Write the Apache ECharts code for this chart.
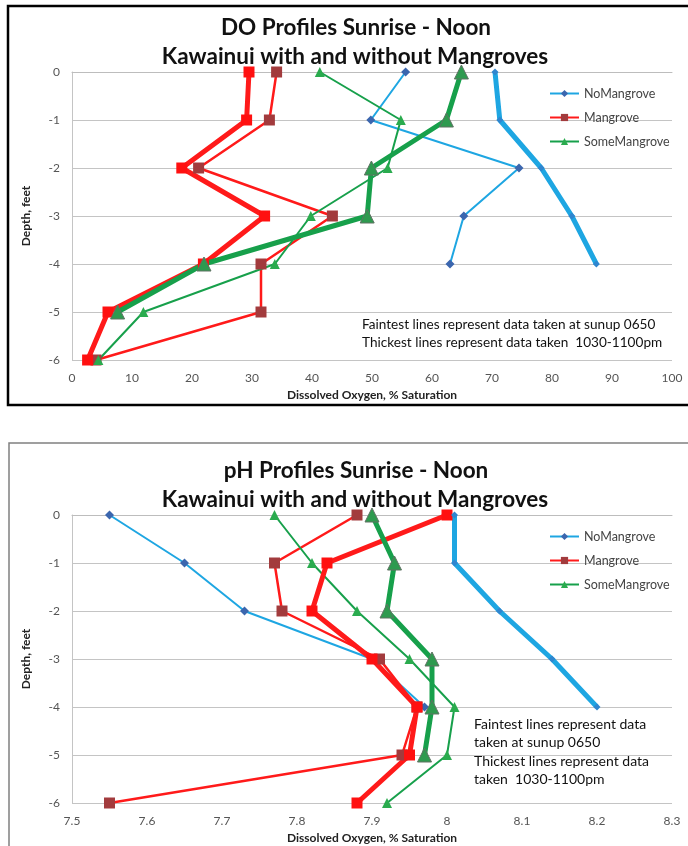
<!DOCTYPE html>
<html>
<head>
<meta charset="utf-8">
<title>DO and pH Profiles</title>
<script src="https://cdn.jsdelivr.net/npm/echarts@6/dist/echarts.min.js"></script>
<style>
    html, body {margin: 0; padding: 0; background: #fff;}
    #chart {width: 688px; height: 846px;}
</style>
</head>
<body>
<div id="chart"></div>
<script>
    // depth of each reading, feet
    var depths = [0, -1, -2, -3, -4, -5, -6];
    var legendNames = ['NoMangrove', 'Mangrove', 'SomeMangrove'];

    // dissolved oxygen, % saturation (sunup = faint, noon = thick)
    var doNoMangroveSunup = [55.6, 49.8, 74.5, 65.3, 63.0];
    var doNoMangroveNoon = [70.5, 71.3, 78.2, 83.3, 87.4];
    var doMangroveSunup = [34.1, 32.9, 21.1, 43.4, 31.5, 31.5, 4.0];
    var doMangroveNoon = [29.5, 29.1, 18.3, 32.1, 21.9, 6.0, 2.6];
    var doSomeMangroveSunup = [41.3, 54.8, 52.6, 39.8, 33.8, 11.9, 4.4];
    var doSomeMangroveNoon = [64.9, 62.4, 49.9, 49.2, 22.0, 7.6];

    // pH
    var phNoMangroveSunup = [7.55, 7.65, 7.73, 7.90, 7.97];
    var phNoMangroveNoon = [8.01, 8.01, 8.07, 8.14, 8.20];
    var phMangroveSunup = [7.88, 7.77, 7.78, 7.91, 7.96, 7.94, 7.55];
    var phMangroveNoon = [8.00, 7.84, 7.82, 7.90, 7.96, 7.95, 7.88];
    var phSomeMangroveSunup = [7.77, 7.82, 7.88, 7.95, 8.01, 8.00, 7.92];
    var phSomeMangroveNoon = [7.90, 7.93, 7.92, 7.98, 7.98, 7.97];

    var font = 'Lato, "Open Sans", sans-serif';
    var blue = '#1ea6e2', red = '#ff1a1a', green = '#17a04b';

    function pts(xs) {
        return xs.map(function (x, i) { return [x, depths[i]]; });
    }

    function line(name, idx, xs, width, color, symbol, size, markColor, border) {
        return {
            name: name, type: 'line', xAxisIndex: idx, yAxisIndex: idx,
            data: pts(xs), symbol: symbol, symbolSize: size, showAllSymbol: true,
            lineStyle: {color: color, width: width},
            itemStyle: {color: markColor, borderColor: border || markColor, borderWidth: border ? 1 : 0, opacity: 1},
            emphasis: {disabled: true}, animation: false
        };
    }

    function profileSeries(idx, noS, noN, mgS, mgN, smS, smN) {
        return [
            line('NoMangrove', idx, noS, 2, blue, 'diamond', 9, '#3b66ae'),
            line('Mangrove', idx, mgS, 2.5, red, 'rect', 11, '#a23b3d'),
            line('SomeMangrove', idx, smS, 2, green, 'triangle', 10, '#2aab4e'),
            line('Mangrove noon', idx, mgN, 5, red, 'rect', 11, '#ff1010'),
            line('SomeMangrove noon', idx, smN, 5, green, 'triangle', 14, '#2e9a4f', '#5f7263'),
            line('NoMangrove noon', idx, noN, 5, blue, 'diamond', 7, '#2f86cf')
        ];
    }

    function xAxis(idx, min, max, interval) {
        return {
            type: 'value', gridIndex: idx, min: min, max: max, interval: interval,
            name: 'Dissolved Oxygen, % Saturation', nameLocation: 'middle', nameGap: 29,
            nameTextStyle: {fontFamily: font, fontWeight: 'bold', fontSize: 12, color: '#222'},
            axisLine: {show: true, lineStyle: {color: '#bdbdbd'}},
            axisTick: {show: false}, splitLine: {show: false},
            axisLabel: {
                margin: 12, fontFamily: font, fontSize: 12, color: '#555',
                formatter: function (v) { return String(Math.round(v * 10) / 10); }
            }
        };
    }

    function yAxis(idx) {
        return {
            type: 'value', gridIndex: idx, min: -6, max: 0, interval: 1,
            name: 'Depth, feet', nameLocation: 'middle', nameGap: 40, nameRotate: 90,
            nameTextStyle: {fontFamily: font, fontWeight: 'bold', fontSize: 12, color: '#222'},
            axisLine: {show: true, lineStyle: {color: '#c4c4c4'}},
            axisTick: {show: false},
            splitLine: {show: true, lineStyle: {color: '#c4c4c4', width: 1}},
            axisLabel: {margin: 12, fontFamily: font, fontSize: 12, color: '#555'}
        };
    }

    function legend(top) {
        return {
            data: legendNames, orient: 'vertical', left: 549, top: top, padding: 0,
            itemWidth: 29, itemHeight: 9, itemGap: 11, selectedMode: false,
            textStyle: {fontFamily: font, fontSize: 12.5, color: '#444'}
        };
    }

    function text(x, y, str, size, bold, align) {
        return {
            type: 'text', x: x, y: y, silent: true, z: 10,
            style: {
                text: str, fontFamily: font, fontSize: size, fontWeight: bold ? 'bold' : 'normal',
                fill: '#111', align: align || 'left', verticalAlign: 'middle', lineHeight: 18
            }
        };
    }

    var option = {
        backgroundColor: '#fff',
        grid: [
            {left: 72, top: 72, width: 600, height: 288},
            {left: 72, top: 515, width: 600, height: 288}
        ],
        xAxis: [xAxis(0, 0, 100, 10), xAxis(1, 7.5, 8.3, 0.1)],
        yAxis: [yAxis(0), yAxis(1)],
        legend: [legend(87), legend(530)],
        series: profileSeries(0, doNoMangroveSunup, doNoMangroveNoon, doMangroveSunup, doMangroveNoon,
            doSomeMangroveSunup, doSomeMangroveNoon)
            .concat(profileSeries(1, phNoMangroveSunup, phNoMangroveNoon, phMangroveSunup, phMangroveNoon,
                phSomeMangroveSunup, phSomeMangroveNoon)),
        graphic: [
            {
                type: 'rect', silent: true, z: -1,
                shape: {x: 8, y: 6, width: 720, height: 399},
                style: {fill: 'none', stroke: '#000', lineWidth: 2.5}
            },
            {
                type: 'rect', silent: true, z: -1,
                shape: {x: 9, y: 443, width: 720, height: 430},
                style: {fill: 'none', stroke: '#808080', lineWidth: 1.5}
            },
            text(356, 28, 'DO Profiles Sunrise - Noon', 22.5, true, 'center'),
            text(355, 57, 'Kawainui with and without Mangroves', 22.5, true, 'center'),
            text(356, 471, 'pH Profiles Sunrise - Noon', 22.5, true, 'center'),
            text(355, 500, 'Kawainui with and without Mangroves', 22.5, true, 'center'),
            text(362, 325, 'Faintest lines represent data taken at sunup 0650', 13.6, false),
            text(362, 343, 'Thickest lines represent data taken  1030-1100pm', 13.6, false),
            text(474, 724, 'Faintest lines represent data', 14, false),
            text(474, 742, 'taken at sunup 0650', 14, false),
            text(474, 761, 'Thickest lines represent data', 14, false),
            text(474, 779, 'taken  1030-1100pm', 14, false)
        ]
    };

    var chart = echarts.init(document.getElementById('chart'));
    chart.setOption(option);
</script>
</body>
</html>
